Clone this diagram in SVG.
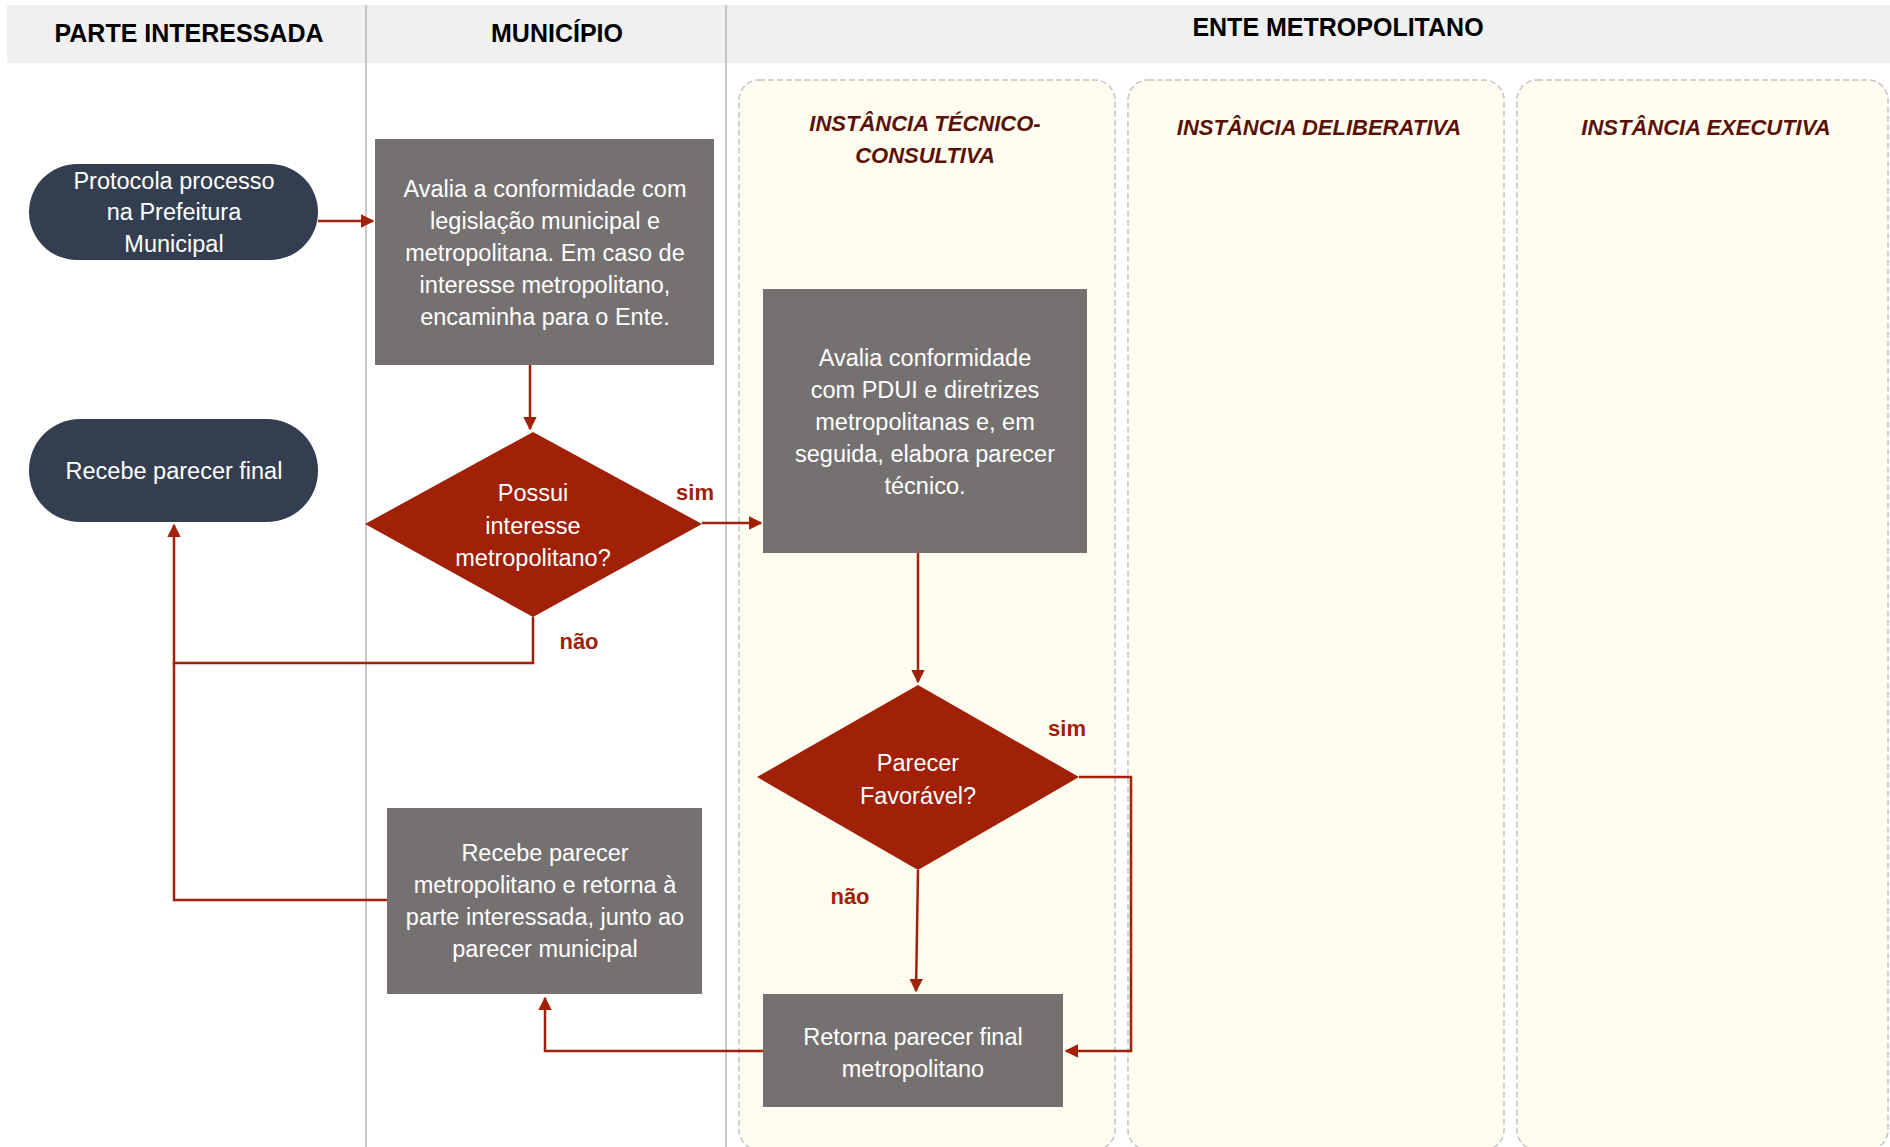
<svg xmlns="http://www.w3.org/2000/svg" width="1890" height="1147" viewBox="0 0 1890 1147">
<style>
.hdr{font-family:"Liberation Sans",Arial,sans-serif;font-weight:bold;font-size:25px;fill:#000;text-anchor:middle}
.inst{font-family:"Liberation Sans",Arial,sans-serif;font-weight:bold;font-style:italic;font-size:22px;fill:#5a1208;text-anchor:middle}
.txt{font-family:"Liberation Sans",Arial,sans-serif;font-size:23.5px;fill:#fff;text-anchor:middle}
.lbl{font-family:"Liberation Sans",Arial,sans-serif;font-weight:bold;font-size:22px;fill:#a02008;text-anchor:middle}
.pill{fill:#333f50}
.box{fill:#767171}
.dia{fill:#a02008}
.lane{fill:#fffdf0;stroke:#c4c4c4;stroke-width:1.5;stroke-dasharray:6 3}
.div{stroke:#a6a6a6;stroke-width:1.2}
.con{fill:none;stroke:#a02008;stroke-width:2.5}
</style>
<defs>
<marker id="ah" viewBox="0 0 10 10" refX="9" refY="5" markerWidth="5.5" markerHeight="5.5" markerUnits="strokeWidth" orient="auto">
<path d="M0,0 L10,5 L0,10 z" fill="#a02008"/>
</marker>
</defs>
<rect width="1890" height="1147" fill="#fff"/>
<g id="headers">
<rect x="7" y="5" width="1883" height="58" fill="#f0f0f0"/>
<text class="hdr" x="189" y="42">PARTE INTERESSADA</text>
<text class="hdr" x="557" y="42">MUNICÍPIO</text>
<text class="hdr" x="1338" y="36">ENTE METROPOLITANO</text>
</g>
<g id="dividers">
<line class="div" x1="366" y1="5" x2="366" y2="1147"/>
<line class="div" x1="726" y1="5" x2="726" y2="1147"/>
</g>
<g id="lane-tecnico">
<rect class="lane" x="739" y="80" width="376" height="1070" rx="20"/>
<text class="inst" x="925" y="131">INSTÂNCIA TÉCNICO-</text>
<text class="inst" x="925" y="163">CONSULTIVA</text>
</g>
<g id="lane-deliberativa">
<rect class="lane" x="1128" y="80" width="376" height="1070" rx="20"/>
<text class="inst" x="1319" y="135">INSTÂNCIA DELIBERATIVA</text>
</g>
<g id="lane-executiva">
<rect class="lane" x="1517" y="80" width="371" height="1070" rx="20"/>
<text class="inst" x="1706" y="135">INSTÂNCIA EXECUTIVA</text>
</g>
<g id="connectors">
<path class="con" d="M318,221 H373" marker-end="url(#ah)"/>
<path class="con" d="M530,365 V429" marker-end="url(#ah)"/>
<path class="con" d="M702,523 H761" marker-end="url(#ah)"/>
<path class="con" d="M533,617 V663 H174 V525" marker-end="url(#ah)"/>
<path class="con" d="M387,900 H174 V663"/>
<path class="con" d="M918,553 V682" marker-end="url(#ah)"/>
<path class="con" d="M1079,777 H1131 V1051 H1066" marker-end="url(#ah)"/>
<path class="con" d="M918,870 L916,991" marker-end="url(#ah)"/>
<path class="con" d="M763,1051 H545 V998" marker-end="url(#ah)"/>
<text class="lbl" x="695" y="500">sim</text>
<text class="lbl" x="579" y="649">não</text>
<text class="lbl" x="1067" y="736">sim</text>
<text class="lbl" x="850" y="904">não</text>
</g>
<g id="protocola">
<rect class="pill" x="29" y="164" width="289" height="96" rx="48"/>
<text class="txt" x="174" y="189">Protocola processo</text>
<text class="txt" x="174" y="220">na Prefeitura</text>
<text class="txt" x="174" y="252">Municipal</text>
</g>
<g id="recebe-final">
<rect class="pill" x="29" y="419" width="289" height="103" rx="51"/>
<text class="txt" x="174" y="479">Recebe parecer final</text>
</g>
<g id="avalia-municipal">
<rect class="box" x="375" y="139" width="339" height="226"/>
<text class="txt" x="545" y="197">Avalia a conformidade com</text>
<text class="txt" x="545" y="229">legislação municipal e</text>
<text class="txt" x="545" y="261">metropolitana. Em caso de</text>
<text class="txt" x="545" y="293">interesse metropolitano,</text>
<text class="txt" x="545" y="325">encaminha para o Ente.</text>
</g>
<g id="possui-interesse">
<polygon class="dia" points="533,432 702,524 533,617 365,524"/>
<text class="txt" x="533" y="501">Possui</text>
<text class="txt" x="533" y="534">interesse</text>
<text class="txt" x="533" y="566">metropolitano?</text>
</g>
<g id="avalia-pdui">
<rect class="box" x="763" y="289" width="324" height="264"/>
<text class="txt" x="925" y="366">Avalia conformidade</text>
<text class="txt" x="925" y="398">com PDUI e diretrizes</text>
<text class="txt" x="925" y="430">metropolitanas e, em</text>
<text class="txt" x="925" y="462">seguida, elabora parecer</text>
<text class="txt" x="925" y="494">técnico.</text>
</g>
<g id="parecer-favoravel">
<polygon class="dia" points="918,685 1079,777 918,870 757,777"/>
<text class="txt" x="918" y="771">Parecer</text>
<text class="txt" x="918" y="804">Favorável?</text>
</g>
<g id="recebe-metropolitano">
<rect class="box" x="387" y="808" width="315" height="186"/>
<text class="txt" x="545" y="861">Recebe parecer</text>
<text class="txt" x="545" y="893">metropolitano e retorna à</text>
<text class="txt" x="545" y="925">parte interessada, junto ao</text>
<text class="txt" x="545" y="957">parecer municipal</text>
</g>
<g id="retorna-final">
<rect class="box" x="763" y="994" width="300" height="113"/>
<text class="txt" x="913" y="1045">Retorna parecer final</text>
<text class="txt" x="913" y="1077">metropolitano</text>
</g>
</svg>
